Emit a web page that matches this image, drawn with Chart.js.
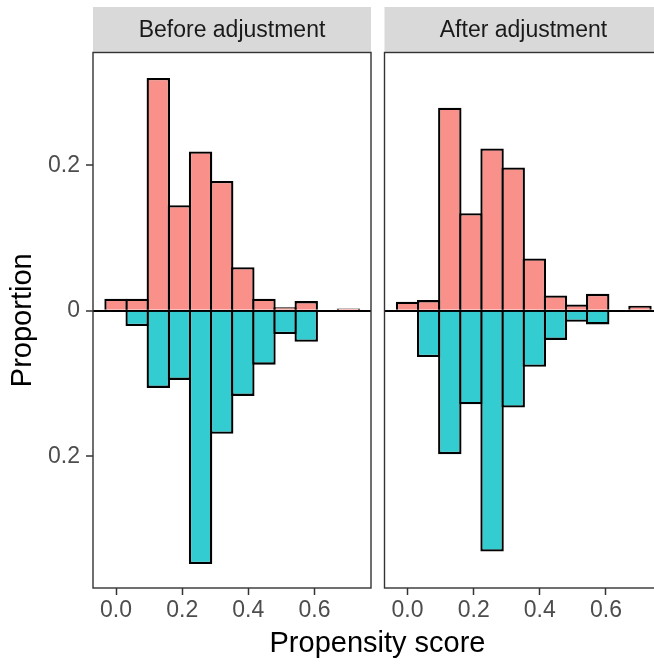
<!DOCTYPE html>
<html>
<head>
<meta charset="utf-8">
<script src="https://cdn.jsdelivr.net/npm/chart.js@4.4.1/dist/chart.umd.min.js"></script>
<style>
    html, body { margin: 0; padding: 0; background: #fff; overflow: hidden; }
    #wrap { position: relative; width: 654px; height: 664px; overflow: hidden; }
    canvas { position: absolute; top: 0; }
    #before { left: 0; }
    #after { left: 380px; }
    #xTitle {
        position: absolute; left: 0; width: 755px; top: 626px;
        text-align: center; line-height: 36px;
        font: 29px "Liberation Sans", Arial, sans-serif; color: #000;
    }
</style>
</head>
<body>
<div id="wrap">
    <canvas id="before" width="372" height="664"></canvas>
    <canvas id="after" width="290" height="664"></canvas>
    <div id="xTitle">Propensity score</div>
</div>
<script>
// Histogram bins (centres) and proportions per group
const binCenters = [0.0000, 0.0639, 0.1278, 0.1917, 0.2556, 0.3195, 0.3834, 0.4473, 0.5112, 0.5751, 0.6390, 0.7029];

const beforeTreated = [0.0165, 0.0165, 0.320, 0.145, 0.219, 0.1785, 0.060, 0.0165, 0.005, 0.0133, null, 0.0033];
const beforeControl = [null, 0.021, 0.106, 0.095, 0.348, 0.169, 0.117, 0.074, 0.032, 0.0425, null, null];

const afterTreated = [0.0124, 0.0147, 0.279, 0.134, 0.223, 0.197, 0.072, 0.021, 0.0087, 0.0233, null, 0.0069];
const afterControl = [null, 0.0636, 0.197, 0.1285, 0.331, 0.133, 0.077, 0.040, 0.015, 0.0187, null, null];

const xTicks = [0, 0.2, 0.4, 0.6];
const yTicks = [-0.2, 0, 0.2];

const FONT = '"Liberation Sans", Arial, sans-serif';
const treatedColor = '#F9918A';
const controlColor = '#33CCD0';

// grey strip with facet label above the panel
const stripPlugin = {
    id: 'strip',
    afterDraw(chart, args, opts) {
        const { ctx, chartArea } = chart;
        const h = 45.5;
        ctx.save();
        ctx.fillStyle = '#D9D9D9';
        ctx.fillRect(chartArea.left, chartArea.top - h, chartArea.right - chartArea.left, h);
        ctx.fillStyle = '#1A1A1A';
        ctx.font = '23px ' + FONT;
        ctx.textAlign = 'center';
        ctx.textBaseline = 'middle';
        ctx.fillText(opts.text, (chartArea.left + chartArea.right) / 2, chartArea.top - h / 2 + 1);
        ctx.restore();
    }
};

// panel border
const boxPlugin = {
    id: 'box',
    afterDraw(chart) {
        const { ctx, chartArea } = chart;
        ctx.save();
        ctx.strokeStyle = '#333333';
        ctx.lineWidth = 1.4;
        ctx.strokeRect(chartArea.left, chartArea.top, chartArea.right - chartArea.left, chartArea.bottom - chartArea.top);
        ctx.restore();
    }
};

function makePanel(id, title, treated, control, showY) {
    const ctx = document.getElementById(id);
    return new Chart(ctx, {
        type: 'bar',
        data: {
            datasets: [{
                label: 'Treated',
                data: binCenters.map((c, i) => ({ x: c, y: treated[i] })),
                backgroundColor: treatedColor,
                borderColor: '#000',
                borderWidth: 2.3,
                borderSkipped: 'start',
                barPercentage: 1.109,
                categoryPercentage: 1
            }, {
                label: 'Control',
                data: binCenters.map((c, i) => ({ x: c, y: control[i] === null ? null : -control[i] })),
                backgroundColor: controlColor,
                borderColor: '#000',
                borderWidth: 2.3,
                borderSkipped: 'start',
                barPercentage: 1.109,
                categoryPercentage: 1
            }]
        },
        options: {
            responsive: false,
            animation: false,
            layout: {
                padding: showY ? { top: 52.5, right: 1, bottom: 0, left: 0 } : { top: 52.5, right: 7.5, bottom: 0, left: 4.5 }
            },
            scales: {
                x: {
                    type: 'linear',
                    min: -0.0697,
                    max: 0.771,
                    stacked: true,
                    offset: false,
                    afterFit: s => { s.height = 76; },
                    afterBuildTicks: s => { s.ticks = xTicks.map(v => ({ value: v })); },
                    ticks: {
                        callback: v => v.toFixed(1),
                        font: { family: FONT, size: 23 },
                        color: '#4D4D4D',
                        padding: 2,
                        maxRotation: 0,
                        autoSkip: false
                    },
                    grid: {
                        offset: false,
                        drawOnChartArea: false,
                        drawTicks: true,
                        tickLength: 7,
                        tickColor: '#333333',
                        tickWidth: 1.5
                    },
                    border: { display: false }
                },
                y: {
                    type: 'linear',
                    min: -0.381,
                    max: 0.355,
                    stacked: true,
                    z: 1,
                    afterFit: s => { s.width = showY ? 93 : 0; },
                    afterBuildTicks: s => { s.ticks = yTicks.map(v => ({ value: v })); },
                    ticks: {
                        display: showY,
                        callback: v => (v === 0 ? '0' : Math.abs(v).toFixed(1)),
                        font: { family: FONT, size: 23 },
                        color: '#4D4D4D',
                        padding: 6
                    },
                    grid: {
                        color: c => (c.tick && c.tick.value === 0 ? '#000' : 'rgba(0,0,0,0)'),
                        lineWidth: 2,
                        drawTicks: showY,
                        tickLength: 7,
                        tickColor: '#333333',
                        tickWidth: 1.5
                    },
                    border: { display: false },
                    title: {
                        display: showY,
                        text: 'Proportion',
                        font: { family: FONT, size: 29 },
                        color: '#000',
                        padding: { top: 6, bottom: 0 }
                    }
                }
            },
            plugins: {
                legend: { display: false },
                tooltip: { enabled: false },
                strip: { text: title }
            }
        },
        plugins: [stripPlugin, boxPlugin]
    });
}

makePanel('before', 'Before adjustment', beforeTreated, beforeControl, true);
makePanel('after', 'After adjustment', afterTreated, afterControl, false);
</script>
</body>
</html>
